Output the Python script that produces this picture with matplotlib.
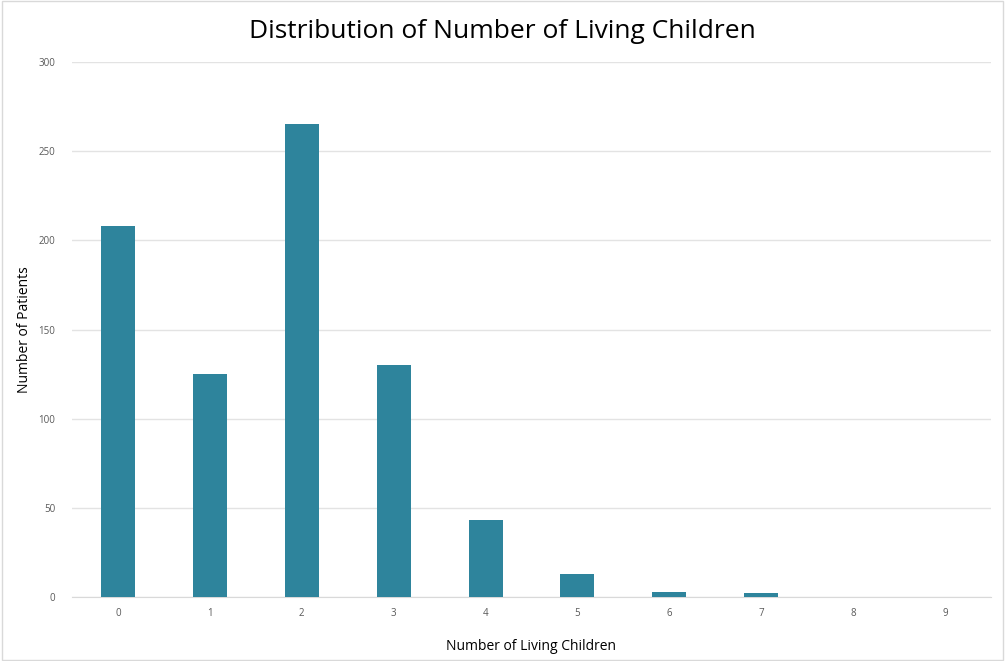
import numpy as np
import matplotlib
matplotlib.use('Agg')
import matplotlib.pyplot as plt
from matplotlib.patches import Rectangle

children = [0, 1, 2, 3, 4, 5, 6, 7, 8, 9]
patients = [208, 125, 265, 130, 43, 13, 3, 2, 0, 0]
y_ticks = [0, 50, 100, 150, 200, 250, 300]

plt.rcParams['font.family'] = ['Open Sans', 'DejaVu Sans']

fig = plt.figure(figsize=(10.05, 6.61), dpi=100)
ax = fig.add_axes([72 / 1005, 1 - 597 / 661, 919 / 1005, 535 / 661])

ax.bar(children, patients, width=0.37, color='#2e849c', zorder=3)
ax.set_xlim(-0.5, 9.5)
ax.set_ylim(0, 300)
ax.set_xticks(children)
ax.set_yticks(y_ticks)
ax.tick_params(axis='both', length=0, labelsize=7, colors='#595959', pad=8)
ax.tick_params(axis='y', pad=12)
ax.grid(axis='y', color='#e3e3e3', linewidth=1, zorder=0)
for side in ['top', 'right', 'left']:
    ax.spines[side].set_visible(False)
ax.spines['bottom'].set_color('#d9d9d9')

ax.set_xlabel('Number of Living Children', fontsize=10, color='black', labelpad=14)
ax.set_ylabel('Number of Patients', fontsize=10, color='black', labelpad=5)
fig.suptitle('Distribution of Number of Living Children', fontsize=19, y=0.972)

# thin frame around the whole picture
fig.patches.append(Rectangle((0.002, 0.002), 0.996, 0.996, transform=fig.transFigure,
                             fill=False, edgecolor='#d9d9d9', linewidth=1))

fig.savefig('out.png', dpi=100)
